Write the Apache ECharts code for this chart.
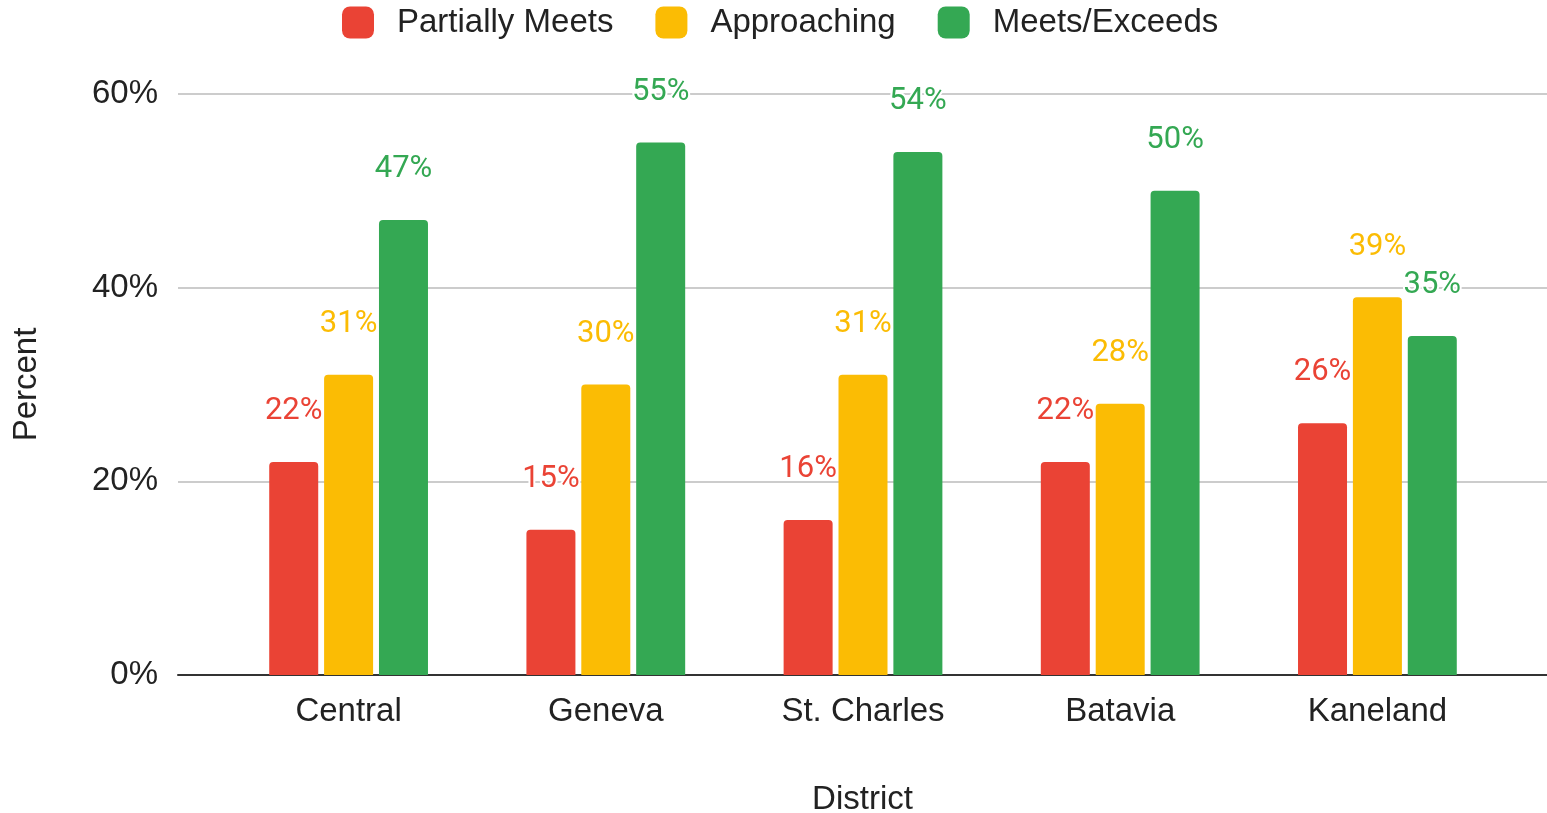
<!DOCTYPE html>
<html>
<head>
<meta charset="utf-8">
<title>District results</title>
<script src="https://cdn.jsdelivr.net/npm/echarts@6/dist/echarts.min.js"></script>
<style>
  html, body { margin: 0; padding: 0; background: #fff; }
  #chart { width: 1547px; height: 813px; }
</style>
</head>
<body>
<div id="chart"></div>
<script>
// District breakdown of performance levels (percent of students)
const districts = ['Central', 'Geneva', 'St. Charles', 'Batavia', 'Kaneland'];
const seriesNames = ['Partially Meets', 'Approaching', 'Meets/Exceeds'];
const partiallyMeets = [22, 15, 16, 22, 26];
const approaching = [31, 30, 31, 28, 39];
const meetsExceeds = [47, 55, 54, 50, 35];
const yTicks = [0, 20, 40, 60];

const colors = ['#EA4335', '#FBBC04', '#34A853'];
const axisFont = 'Liberation Sans, Arial, sans-serif';
const labelFont = 'Roboto, sans-serif';
const textSize = 33;

const chart = echarts.init(document.getElementById('chart'));

function barSeries(name, values, color) {
  return {
    name: name,
    type: 'bar',
    xAxisIndex: 1,
    yAxisIndex: 1,
    data: values,
    barWidth: 49,
    barGap: '12%',
    itemStyle: { color: color, borderRadius: [4, 4, 0, 0] },
    label: {
      show: true,
      position: 'top',
      distance: 35,
      formatter: '{c}%',
      color: color,
      fontFamily: labelFont,
      fontSize: 31,
      textBorderColor: '#fff',
      textBorderWidth: 4
    }
  };
}

const yMin = yTicks[0];
const yMax = yTicks[yTicks.length - 1];

chart.setOption({
  animation: false,
  backgroundColor: '#fff',
  legend: {
    top: 6,
    left: 342,
    padding: 0,
    itemWidth: 32,
    itemHeight: 32,
    itemGap: 42,
    icon: 'roundRect',
    data: seriesNames,
    textStyle: {
      fontFamily: axisFont,
      fontSize: textSize,
      color: '#222',
      padding: [2, 0, 0, 18]
    }
  },
  grid: [
    // full-width plot area carrying the value axis and gridlines
    { left: 178, right: 0, top: 94, bottom: 138, containLabel: false, outerBoundsMode: 'none' },
    // inner band area where the district groups sit
    { left: 220, right: 41, top: 94, bottom: 138, containLabel: false, outerBoundsMode: 'none' }
  ],
  xAxis: [
    {
      type: 'value',
      gridIndex: 0,
      min: 0,
      max: 1,
      axisLine: { show: true, onZero: false, lineStyle: { color: '#333', width: 2 } },
      axisTick: { show: false },
      axisLabel: { show: false },
      splitLine: { show: false },
      name: 'District',
      nameLocation: 'middle',
      nameGap: 108,
      nameTextStyle: { fontFamily: axisFont, fontSize: textSize, color: '#222' }
    },
    {
      type: 'category',
      gridIndex: 1,
      data: districts,
      axisLine: { show: false },
      axisTick: { show: false },
      axisLabel: {
        margin: 20,
        fontFamily: axisFont,
        fontSize: textSize,
        color: '#222'
      }
    }
  ],
  yAxis: [
    {
      type: 'value',
      gridIndex: 0,
      min: yMin,
      max: yMax,
      interval: 20,
      axisLine: { show: false },
      axisTick: { show: false },
      axisLabel: {
        margin: 20,
        padding: [4, 0, 0, 0],
        formatter: '{value}%',
        fontFamily: axisFont,
        fontSize: textSize,
        color: '#222'
      },
      splitLine: { lineStyle: { color: '#ccc', width: 2 } },
      name: 'Percent',
      nameLocation: 'middle',
      nameGap: 135,
      nameRotate: 90,
      nameTextStyle: { fontFamily: axisFont, fontSize: textSize, color: '#222' }
    },
    {
      type: 'value',
      gridIndex: 1,
      min: yMin,
      max: yMax,
      interval: 20,
      show: false,
      splitLine: { show: false }
    }
  ],
  series: [
    barSeries(seriesNames[0], partiallyMeets, colors[0]),
    barSeries(seriesNames[1], approaching, colors[1]),
    barSeries(seriesNames[2], meetsExceeds, colors[2])
  ]
});
</script>
</body>
</html>
